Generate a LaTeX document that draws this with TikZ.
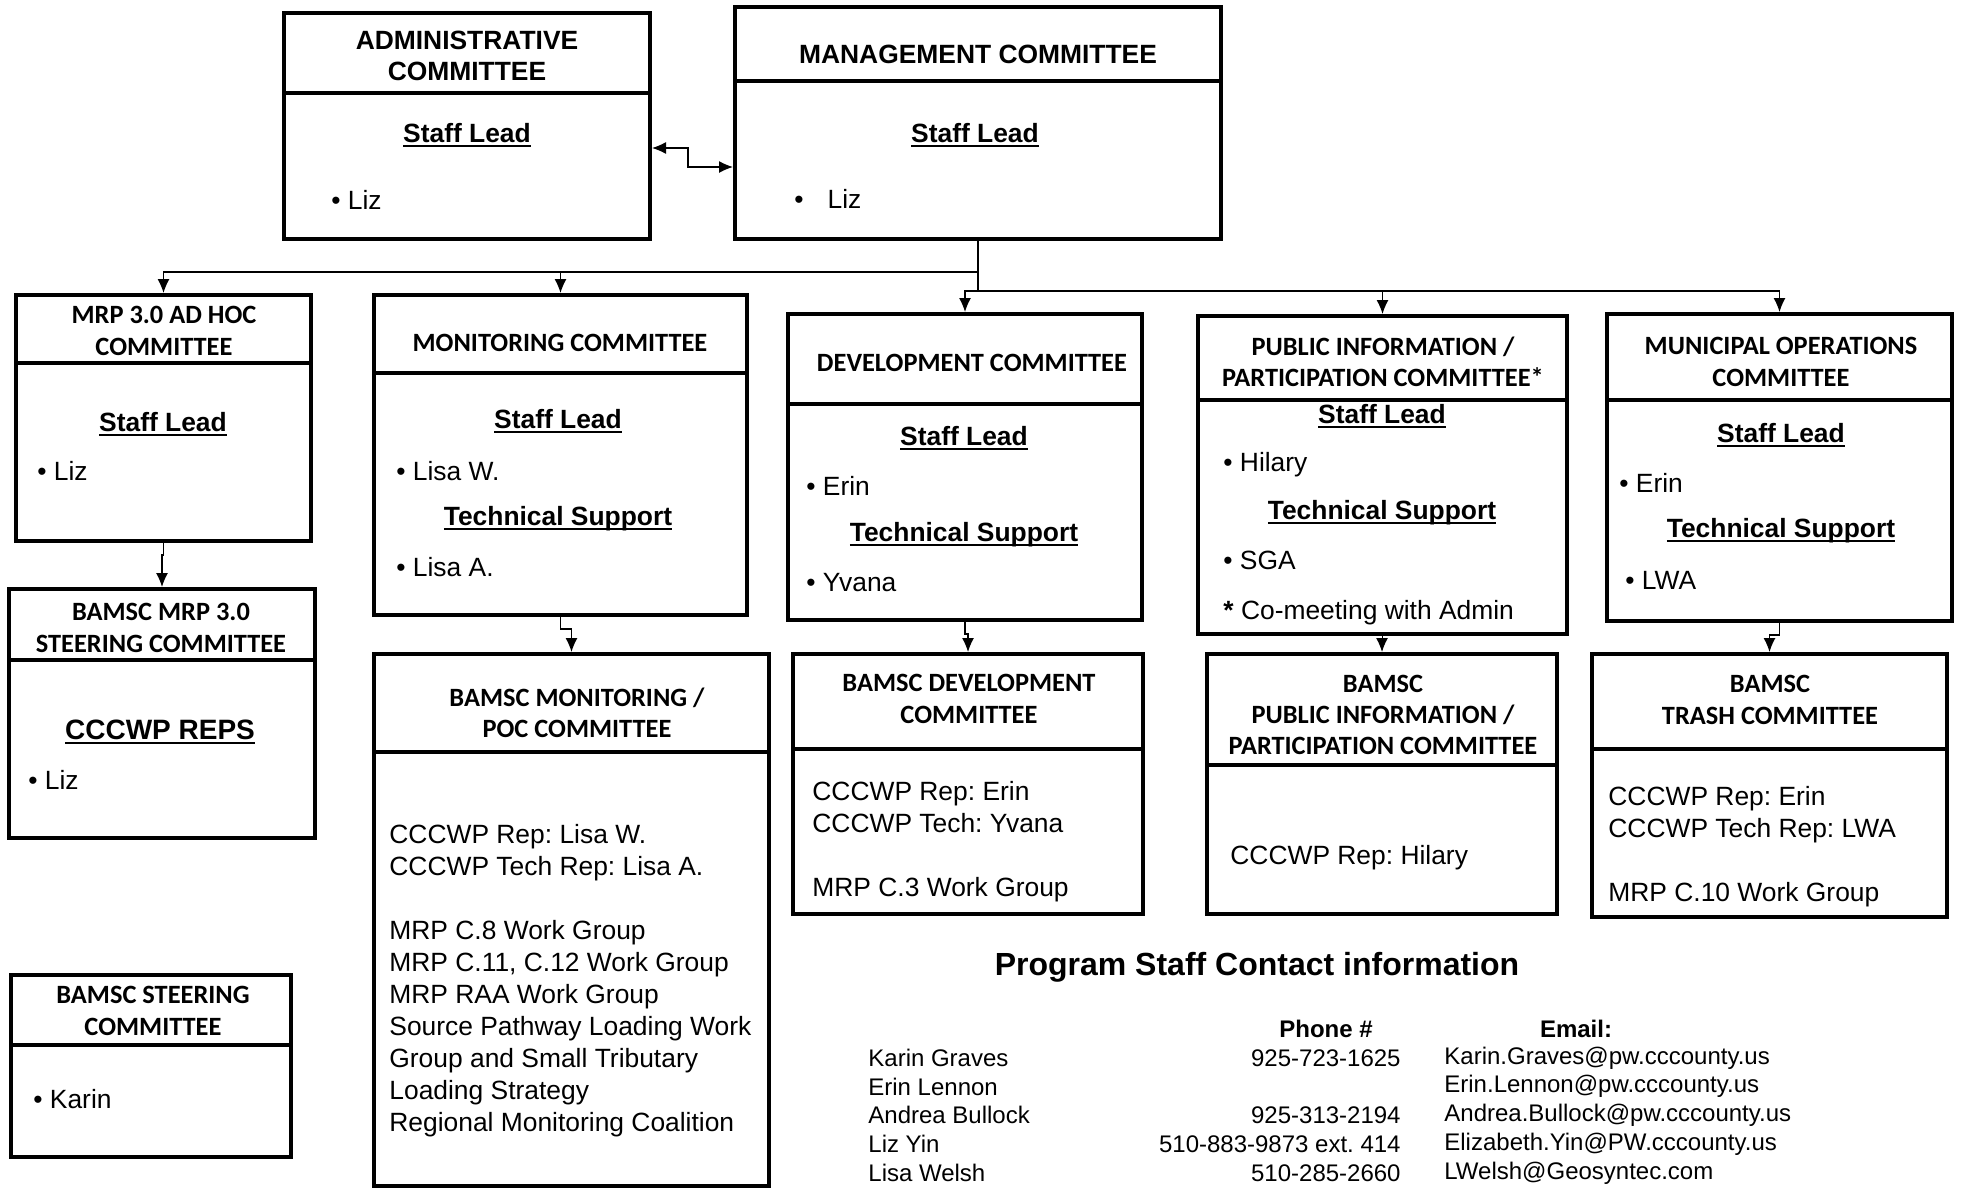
\documentclass[tikz,border=0pt]{standalone}
\usepackage{amsmath}
\usepackage{fontspec}
\setmainfont{Liberation Sans}
\newfontfamily\calib{Carlito}
\usetikzlibrary{arrows.meta,fit}
\frenchspacing

\newcommand{\uln}[1]{\setbox0=\hbox{#1}\rlap{\rule[-2.2pt]{\wd0}{0.9pt}}\box0}

\tikzset{
  cbox/.style={draw, line width=2pt, inner sep=0pt},
  divbar/.style={line width=2pt},
  arr/.tip={Latex[length=7pt,width=6pt]},
  link/.style={line width=0.6pt, -arr},
  hdc/.style={font=\calib\bfseries\fontsize{13.2}{15.7}\selectfont, align=center, inner sep=0pt},
  hda/.style={font=\bfseries\fontsize{13.2}{15.7}\selectfont, align=center, inner sep=0pt},
  leadtxt/.style={font=\bfseries\fontsize{13.2}{15.7}\selectfont, inner sep=0pt},
  itemtxt/.style={font=\fontsize{13.2}{16}\selectfont, anchor=west, inner sep=0pt},
  bodytxt/.style={font=\fontsize{13.2}{16}\selectfont, anchor=base west, align=left, inner sep=0pt},
  ctxt/.style={font=\fontsize{12}{14}\selectfont, inner sep=0pt},
}

\begin{document}
\begin{tikzpicture}[x=0.5pt,y=-0.5pt]
  \useasboundingbox (0,0) rectangle (1961,1189);

  % top row
  \node[cbox, fit={(284,13) (650,239)}] (adm) {};
  \draw[divbar] (adm.west |- 0,93) -- (adm.east |- 0,93);
  \node[hda] (admhd) at (467,56) {ADMINISTRATIVE\\COMMITTEE};
  \node[leadtxt] (admlead) at (467,135) {\uln{Staff Lead}};
  \node[itemtxt] (admliz) at (331,200) {\textbullet\ Liz};

  \node[cbox, fit={(735,7) (1221,239)}] (mgmt) {};
  \draw[divbar] (mgmt.west |- 0,81) -- (mgmt.east |- 0,81);
  \node[hda] (mgmthd) at (978,54) {MANAGEMENT COMMITTEE};
  \node[leadtxt] (mgmtlead) at (975,135) {\uln{Staff Lead}};
  \node[itemtxt] (mgmtliz) at (794,199) {\textbullet\hspace{12pt}Liz};

  \draw[link, arr-arr] (adm.east |- 0,148) -- (688,148) -- (688,167) -- (mgmt.west |- 0,167);

  % committees
  \node[cbox, fit={(16,295) (311,541)}] (adhoc) {};
  \draw[divbar] (adhoc.west |- 0,363) -- (adhoc.east |- 0,363);
  \node[hdc] (adhochd) at (164,331) {MRP 3.0 AD HOC\\COMMITTEE};
  \node[leadtxt] (adhoclead) at (163,424) {\uln{Staff Lead}};
  \node[itemtxt] (adhocliz) at (37,471) {\textbullet\ Liz};

  \node[cbox, fit={(374,295) (747,615)}] (mon) {};
  \draw[divbar] (mon.west |- 0,373) -- (mon.east |- 0,373);
  \node[hdc] (monhd) at (560,343) {MONITORING COMMITTEE};
  \node[leadtxt] (monlead) at (558,421) {\uln{Staff Lead}};
  \node[itemtxt] (monlisaw) at (396,471) {\textbullet\ Lisa W.};
  \node[leadtxt] (montech) at (558,519) {\uln{Technical Support}};
  \node[itemtxt] (monlisaa) at (396,567) {\textbullet\ Lisa A.};

  \node[cbox, fit={(788,314) (1142,620)}] (dev) {};
  \draw[divbar] (dev.west |- 0,404) -- (dev.east |- 0,404);
  \node[hdc] (devhd) at (972,363) {DEVELOPMENT COMMITTEE};
  \node[leadtxt] (devlead) at (964,438) {\uln{Staff Lead}};
  \node[itemtxt] (deverin) at (806,486) {\textbullet\ Erin};
  \node[leadtxt] (devtech) at (964,535) {\uln{Technical Support}};
  \node[itemtxt] (devyvana) at (806,583) {\textbullet\ Yvana};

  \node[cbox, fit={(1198,316) (1567,634)}] (pub) {};
  \draw[divbar] (pub.west |- 0,400) -- (pub.east |- 0,400);
  \node[hdc] (pubhd) at (1383,362) {PUBLIC INFORMATION /\\PARTICIPATION COMMITTEE*};
  \node[leadtxt] (publead) at (1382,416) {\uln{Staff Lead}};
  \node[itemtxt] (pubhilary) at (1223,465) {\textbullet\ Hilary};
  \node[leadtxt] (pubtech) at (1382,513) {\uln{Technical Support}};
  \node[itemtxt] (pubsga) at (1223,560) {\textbullet\ SGA};
  \node[itemtxt] (pubnote) at (1223,613) {{\bfseries *} Co-meeting with Admin};

  \node[cbox, fit={(1607,314) (1952,621)}] (muni) {};
  \draw[divbar] (muni.west |- 0,400) -- (muni.east |- 0,400);
  \node[hdc] (munihd) at (1781,362) {MUNICIPAL OPERATIONS\\COMMITTEE};
  \node[leadtxt] (munilead) at (1781,435) {\uln{Staff Lead}};
  \node[itemtxt] (munierin) at (1619,483) {\textbullet\ Erin};
  \node[leadtxt] (munitech) at (1781,531) {\uln{Technical Support}};
  \node[itemtxt] (munilwa) at (1625,580) {\textbullet\ LWA};

  % BAMSC committees
  \node[cbox, fit={(9,589) (315,838)}] (mrp3) {};
  \draw[divbar] (mrp3.west |- 0,660) -- (mrp3.east |- 0,660);
  \node[hdc] (mrp3hd) at (161,628) {BAMSC MRP 3.0\\STEERING COMMITTEE};
  \node[leadtxt, font=\bfseries\fontsize{14}{16}\selectfont] (mrp3reps) at (160,732) {\uln{CCCWP REPS}};
  \node[itemtxt] (mrp3liz) at (28,780) {\textbullet\ Liz};

  \node[cbox, fit={(374,654) (769,1186)}] (poc) {};
  \draw[divbar] (poc.west |- 0,752) -- (poc.east |- 0,752);
  \node[hdc] (pochd) at (577,713) {BAMSC MONITORING /\\POC COMMITTEE};
  \node[bodytxt] (pocbody) at (389,1131) {CCCWP Rep: Lisa W.\\CCCWP Tech Rep: Lisa A.\\[16pt]MRP C.8 Work Group\\MRP C.11, C.12 Work Group\\MRP RAA Work Group\\Source Pathway Loading Work\\Group and Small Tributary\\Loading Strategy\\Regional Monitoring Coalition};

  \node[cbox, fit={(793,654) (1143,914)}] (bdev) {};
  \draw[divbar] (bdev.west |- 0,749) -- (bdev.east |- 0,749);
  \node[hdc] (bdevhd) at (969,699) {BAMSC DEVELOPMENT\\COMMITTEE};
  \node[bodytxt] (bdevbody) at (812,896) {CCCWP Rep: Erin\\CCCWP Tech: Yvana\\[16pt]MRP C.3 Work Group};

  \node[cbox, fit={(1207,654) (1557,914)}] (bpub) {};
  \draw[divbar] (bpub.west |- 0,765) -- (bpub.east |- 0,765);
  \node[hdc] (bpubhd) at (1383,715) {BAMSC\\PUBLIC INFORMATION /\\PARTICIPATION COMMITTEE};
  \node[bodytxt] (bpubbody) at (1230,864) {CCCWP Rep: Hilary};

  \node[cbox, fit={(1592,654) (1947,917)}] (trash) {};
  \draw[divbar] (trash.west |- 0,749) -- (trash.east |- 0,749);
  \node[hdc] (trashhd) at (1770,700) {BAMSC\\TRASH COMMITTEE};
  \node[bodytxt] (trashbody) at (1608,901) {CCCWP Rep: Erin\\CCCWP Tech Rep: LWA\\[16pt]MRP C.10 Work Group};

  \node[cbox, fit={(11,975) (291,1157)}] (steer) {};
  \draw[divbar] (steer.west |- 0,1045) -- (steer.east |- 0,1045);
  \node[hdc] (steerhd) at (153,1011) {BAMSC STEERING\\COMMITTEE};
  \node[itemtxt] (steerkarin) at (33,1099) {\textbullet\ Karin};

  % connectors
  \foreach \n in {adhoc,mon} \draw[link] (mgmt.south) -- ++(0,31) -| (\n.north);
  \foreach \n in {dev,pub,muni} \draw[link] (mgmt.south) -- ++(0,50) -| (\n.north);
  \foreach \a/\b in {adhoc/mrp3,mon/poc,dev/bdev,pub/bpub,muni/trash}
    \draw[link] (\a.south) -- ++(0,12) -| (\b.north);

  % contacts
  \node[font=\bfseries\fontsize{16}{18}\selectfont, inner sep=0pt] (ctitle) at (1257,967) {Program Staff Contact information};
  \node[ctxt, font=\bfseries\fontsize{12}{14}\selectfont] (cphone) at (1326,1029) {Phone \#};
  \node[ctxt, font=\bfseries\fontsize{12}{14}\selectfont] (cemail) at (1576,1029) {Email:};
  \foreach \nm/\ph/\em [count=\i] in {Karin Graves/925-723-1625/Karin.Graves@pw.cccounty.us,
      Erin Lennon//Erin.Lennon@pw.cccounty.us,
      Andrea Bullock/925-313-2194/Andrea.Bullock@pw.cccounty.us,
      Liz Yin/510-883-9873 ext. 414/Elizabeth.Yin@PW.cccounty.us,
      Lisa Welsh/510-285-2660/LWelsh@Geosyntec.com}{
    \node[ctxt, anchor=west] (cname\i) at (868,1029+28.8*\i) {\nm};
    \node[ctxt, anchor=east] (cph\i) at (1401,1029+28.8*\i) {\ph};
    \node[ctxt, anchor=west] (cem\i) at (1444,1029+28.8*\i) {\em};
  }
\end{tikzpicture}
\end{document}
